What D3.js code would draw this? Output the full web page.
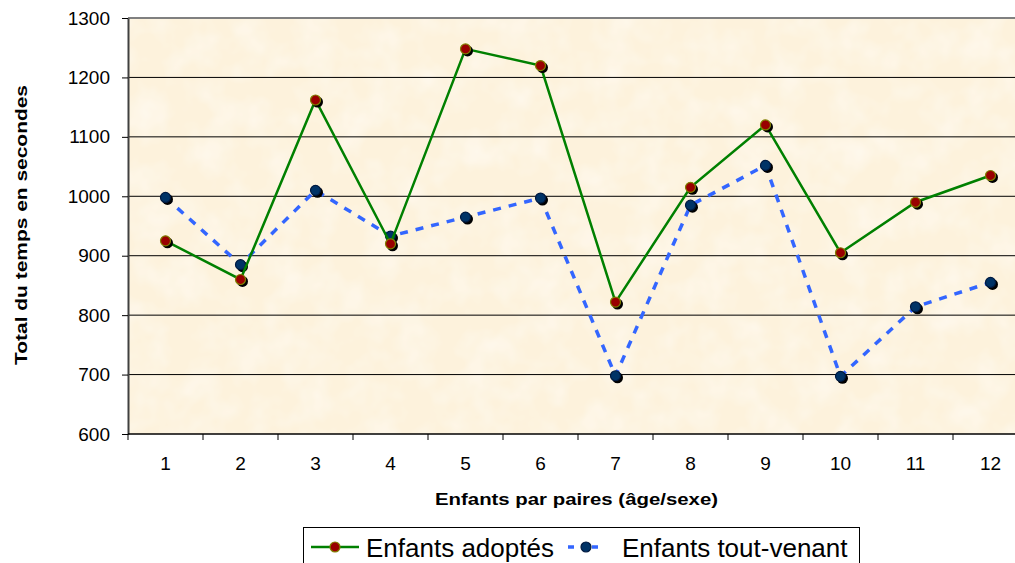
<!DOCTYPE html>
<html>
<head>
<meta charset="utf-8">
<script src="https://cdn.jsdelivr.net/npm/d3@7"></script>
<style>
  body { margin: 0; background: #fff; }
  svg { display: block; font-family: Arial, "Liberation Sans", sans-serif; }
</style>
</head>
<body>
<div class="chart"></div>
<script>
// data
var paires = ['1', '2', '3', '4', '5', '6', '7', '8', '9', '10', '11', '12'];
var adoptes = [925, 860, 1162, 920, 1248, 1220, 822, 1015, 1120, 905, 990, 1035];
var toutVenant = [998, 885, 1010, 933, 965, 997, 698, 985, 1052, 697, 814, 855];
var yTicks = [600, 700, 800, 900, 1000, 1100, 1200, 1300];

var width = 1015,
    height = 563;

var plotLeft = 128, plotTop = 18, plotBottom = 434, plotRight = 1028;

var svg = d3.select('.chart')
  .append('svg')
  .attr('width', width)
  .attr('height', height);

var x = d3.scaleBand()
  .domain(paires)
  .range([plotLeft, plotRight]);

var y = d3.scaleLinear()
  .domain([600, 1300])
  .range([plotBottom, plotTop]);

// parchment-ish background: flat cream + light blotches on top
var defs = svg.append('defs');
var filt = defs.append('filter').attr('id', 'paper')
  .attr('x', 0).attr('y', 0).attr('width', 1).attr('height', 1)
  .attr('color-interpolation-filters', 'sRGB');
filt.append('feTurbulence')
  .attr('type', 'fractalNoise')
  .attr('baseFrequency', 0.03)
  .attr('numOctaves', 3)
  .attr('seed', 4);
filt.append('feColorMatrix')
  .attr('type', 'matrix')
  .attr('values', '0 0 0 0 1  0 0 0 0 1  0 0 0 0 1  0.9 0 0 0 -0.35');

svg.append('rect')
  .attr('x', plotLeft)
  .attr('y', plotTop)
  .attr('width', plotRight - plotLeft)
  .attr('height', plotBottom - plotTop)
  .attr('fill', '#fdf2dc');

svg.append('rect')
  .attr('x', plotLeft)
  .attr('y', plotTop)
  .attr('width', plotRight - plotLeft)
  .attr('height', plotBottom - plotTop)
  .attr('fill', '#fff')
  .attr('filter', 'url(#paper)');

// horizontal grid
svg.append('g')
  .selectAll('line')
  .data(yTicks.slice(1))
  .enter()
  .append('line')
  .attr('x1', plotLeft)
  .attr('x2', plotRight)
  .attr('y1', (d) => y(d))
  .attr('y2', (d) => y(d))
  .attr('stroke', (d) => d === 1300 ? '#808080' : '#000')
  .attr('stroke-width', (d) => d === 1300 ? 2 : 1);

// y axis
var yAxis = d3.axisLeft(y)
  .tickValues(yTicks)
  .tickFormat(d3.format('d'))
  .tickSize(6)
  .tickSizeOuter(0)
  .tickPadding(12);

var gy = svg.append('g')
  .attr('transform', 'translate(' + plotLeft + ',0)')
  .call(yAxis);
gy.select('.domain').attr('stroke', '#404040').attr('stroke-width', 2);
gy.selectAll('.tick line').attr('stroke', '#000');
gy.selectAll('.tick text')
  .attr('font-size', 19)
  .attr('font-family', 'Arial, "Liberation Sans", sans-serif')
  .attr('fill', '#000');

// x axis: ticks at band boundaries, labels in the middle
var gx = svg.append('g');
gx.append('line')
  .attr('x1', plotLeft).attr('x2', plotRight)
  .attr('y1', plotBottom).attr('y2', plotBottom)
  .attr('stroke', '#000').attr('stroke-width', 1.5);
gx.selectAll('.tk')
  .data(paires)
  .enter()
  .append('line')
  .attr('x1', (d) => x(d))
  .attr('x2', (d) => x(d))
  .attr('y1', plotBottom)
  .attr('y2', plotBottom + 6)
  .attr('stroke', '#000');
gx.selectAll('text')
  .data(paires)
  .enter()
  .append('text')
  .attr('x', (d) => x(d) + x.bandwidth() / 2)
  .attr('y', plotBottom + 36)
  .attr('text-anchor', 'middle')
  .attr('font-size', 19)
  .text((d) => d);

// axis titles
svg.append('text')
  .attr('x', 435)
  .attr('y', 505)
  .attr('font-size', 17)
  .attr('font-weight', 'bold')
  .attr('textLength', 283)
  .attr('lengthAdjust', 'spacingAndGlyphs')
  .text('Enfants par paires (âge/sexe)');

svg.append('text')
  .attr('transform', 'translate(27,365) rotate(-90)')
  .attr('font-size', 17)
  .attr('font-weight', 'bold')
  .attr('textLength', 280)
  .attr('lengthAdjust', 'spacingAndGlyphs')
  .text('Total du temps en secondes');

var cx = (d, i) => x(paires[i]) + x.bandwidth() / 2;

var line = d3.line()
  .x((d, i) => cx(d, i))
  .y((d) => y(d));

var series = [
  { name: 'Enfants tout-venant', values: toutVenant, stroke: '#3366ff', width: 3.5, dash: '8,8', fill: '#003366', ring: '#001a40' },
  { name: 'Enfants adoptés', values: adoptes, stroke: '#008000', width: 2.5, dash: null, fill: '#990000', ring: '#808000' }
];

series.forEach(function(s) {
  var g = svg.append('g');
  g.append('path')
    .datum(s.values)
    .attr('d', line)
    .attr('fill', 'none')
    .attr('stroke', s.stroke)
    .attr('stroke-width', s.width)
    .attr('stroke-dasharray', s.dash);
  // shadow
  g.selectAll('.shadow')
    .data(s.values)
    .enter()
    .append('circle')
    .attr('cx', (d, i) => cx(d, i) + 2)
    .attr('cy', (d) => y(d) + 2)
    .attr('r', 5.5)
    .attr('fill', '#000');
  g.selectAll('.dot')
    .data(s.values)
    .enter()
    .append('circle')
    .attr('cx', (d, i) => cx(d, i))
    .attr('cy', (d) => y(d))
    .attr('r', 5)
    .attr('fill', s.fill)
    .attr('stroke', s.ring)
    .attr('stroke-width', 1.2);
});

// legend
var lg = svg.append('g');
lg.append('rect')
  .attr('x', 303.5)
  .attr('y', 527.5)
  .attr('width', 556)
  .attr('height', 40)
  .attr('fill', '#fff')
  .attr('stroke', '#000');

var legendItems = [
  { name: 'Enfants adoptés', x0: 311, x1: 359, tx: 366, s: series[1] },
  { name: 'Enfants tout-venant', x0: 568, x1: 604, tx: 622, s: series[0] }
];
legendItems.forEach(function(it) {
  lg.append('line')
    .attr('x1', it.x0).attr('x2', it.x1)
    .attr('y1', 547).attr('y2', 547)
    .attr('stroke', it.s.stroke)
    .attr('stroke-width', it.s.width)
    .attr('stroke-dasharray', it.s.dash ? '6,18' : null);
  lg.append('circle')
    .attr('cx', (it.x0 + it.x1) / 2)
    .attr('cy', 547)
    .attr('r', 5)
    .attr('fill', it.s.fill)
    .attr('stroke', it.s.ring)
    .attr('stroke-width', 1.2);
  lg.append('text')
    .attr('x', it.tx)
    .attr('y', 557)
    .attr('font-size', 26)
    .text(it.name);
});
</script>
</body>
</html>
